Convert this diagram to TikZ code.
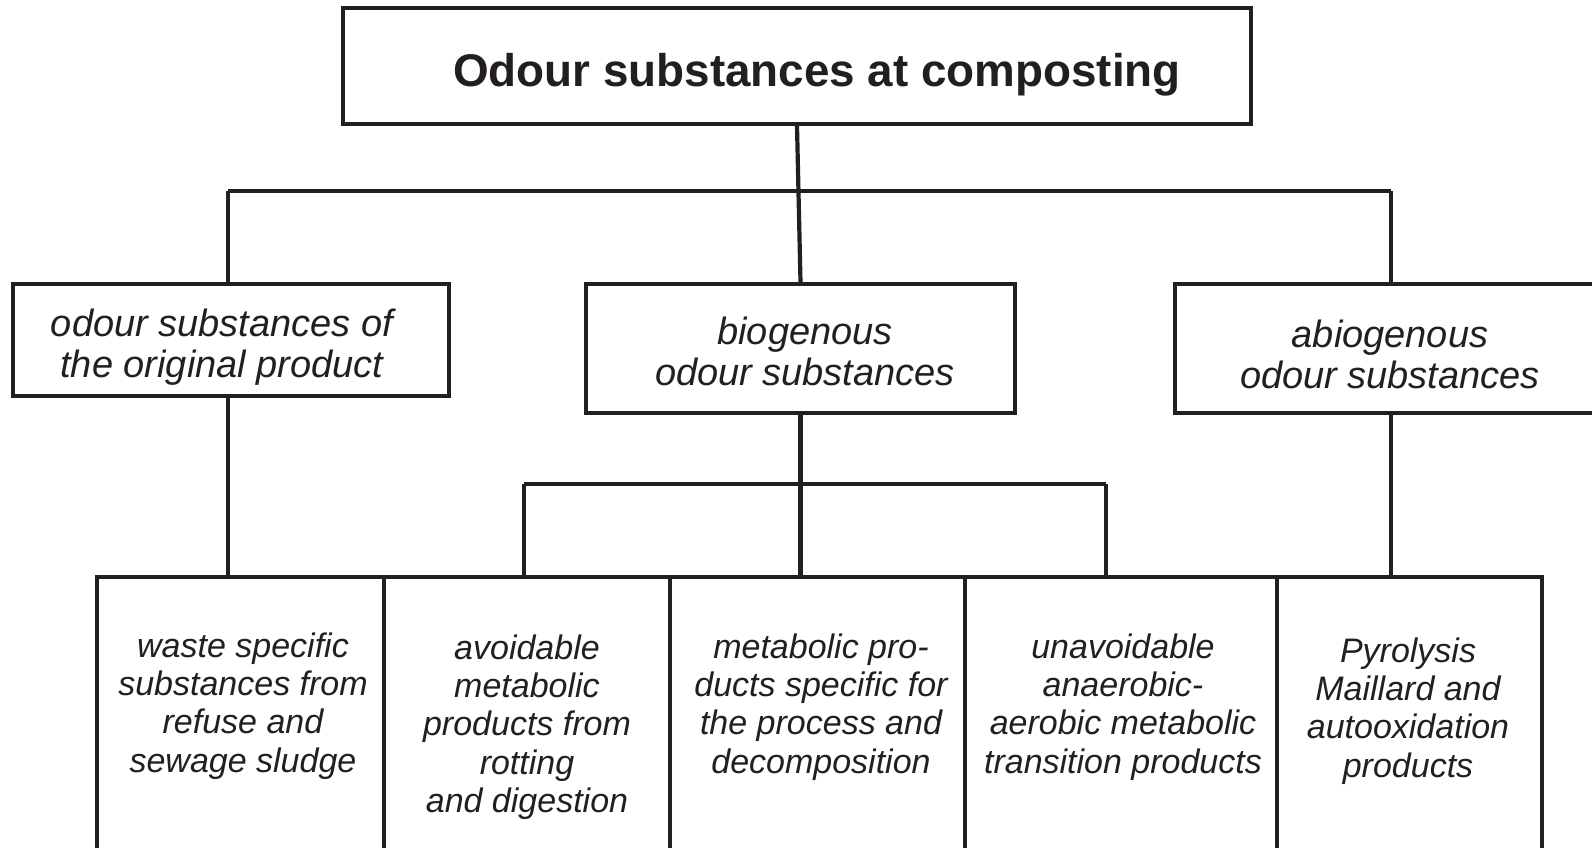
\documentclass[tikz,border=0pt]{standalone}
\usepackage{fontspec}
\setmainfont{Liberation Sans}
\definecolor{ink}{RGB}{35,31,32}
\begin{document}
\begin{tikzpicture}[x=1pt,y=-1pt,
  box/.style={draw=ink, line width=3.3pt, inner sep=0pt, rectangle},
  conn/.style={draw=ink, line width=4.2pt},
  ttl/.style={font=\bfseries\fontsize{45.8}{50}\selectfont, text=ink},
  midtxt/.style={font=\itshape\fontsize{38}{41}\selectfont, align=center, text=ink, inner sep=0pt},
  lowtxt/.style={font=\itshape\fontsize{34}{38.3}\selectfont, align=center, text=ink, inner sep=0pt}]
\useasboundingbox (0,0) rectangle (1592,848);
\clip (0,0) rectangle (1592,848);
\fill[white] (0,0) rectangle (1592,848);
% boxes
\node[box, minimum width=908pt, minimum height=116pt] (top) at (797,66) {};
\node[box, minimum width=436pt, minimum height=112pt] (left) at (231,340) {};
\node[box, minimum width=429pt, minimum height=129pt] (mid) at (800.5,348.5) {};
\node[box, minimum width=465pt, minimum height=129pt] (right) at (1407.5,348.5) {};
\node[box, minimum width=287pt, minimum height=303pt] (b1) at (240.5,728.5) {};
\node[box, minimum width=286pt, minimum height=303pt] (b2) at (527,728.5) {};
\node[box, minimum width=295pt, minimum height=303pt] (b3) at (817.5,728.5) {};
\node[box, minimum width=312pt, minimum height=303pt] (b4) at (1121,728.5) {};
\node[box, minimum width=265pt, minimum height=303pt] (b5) at (1409.5,728.5) {};
% texts
\node[ttl] (ttlt) at (817,75) {Odour substances at composting};
\node[midtxt] (lt) at (222,347) {odour substances of\\the original product};
\node[midtxt] (mt) at (805,351) {biogenous\\odour substances};
\node[midtxt] (rt) at (1390,354) {abiogenous\\odour substances};
\node[lowtxt] (t1) at (243,706) {waste specific\\substances from\\refuse and\\sewage sludge};
\node[lowtxt] (t2) at (527,727) {avoidable\\metabolic\\products from\\rotting\\and digestion};
\node[lowtxt] (t3) at (821,707) {metabolic pro-\\ducts specific for\\the process and\\decomposition};
\node[lowtxt] (t4) at (1123,707) {unavoidable\\anaerobic-\\aerobic metabolic\\transition products};
\node[lowtxt] (t5) at (1408,711) {Pyrolysis\\Maillard and\\autooxidation\\products};
% connectors
\coordinate (barL) at (228,191);
\coordinate (barR) at (1391,191);
\coordinate (subL) at (524,484);
\coordinate (subR) at (1106,484);
\draw[conn] (top.south) -- (mid.north);
\draw[conn] (barL) -- (barR);
\draw[conn] (barL) -- (barL |- left.north);
\draw[conn] (barR) -- (barR |- right.north);
\draw[conn] (barL |- left.south) -- (barL |- b1.north);
\draw[conn] (mid.south) -- (mid.south |- b3.north);
\draw[conn] (subL) -- (subR);
\draw[conn] (subL) -- (subL |- b2.north);
\draw[conn] (subR) -- (subR |- b4.north);
\draw[conn] (barR |- right.south) -- (barR |- b5.north);
\end{tikzpicture}
\end{document}
